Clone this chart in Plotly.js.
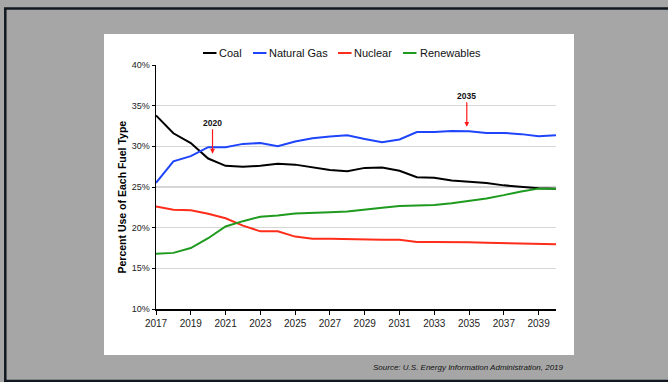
<!DOCTYPE html>
<html>
<head>
<meta charset="utf-8">
<script src="https://cdn.plot.ly/plotly-3.0.1.min.js"></script>
<style>
html,body{margin:0;padding:0;background:#a6a6a6;}
#chart{width:668px;height:382px;}
</style>
</head>
<body>
<div id="chart"></div>
<script>
const years = [2017,2018,2019,2020,2021,2022,2023,2024,2025,2026,2027,2028,2029,2030,2031,2032,2033,2034,2035,2036,2037,2038,2039,2040];
const coal = [33.8,31.6,30.4,28.5,27.6,27.5,27.6,27.85,27.75,27.4,27.1,26.95,27.35,27.4,27.0,26.2,26.15,25.8,25.65,25.5,25.2,25.05,24.85,24.8];
const naturalGas = [25.5,28.15,28.8,29.9,29.9,30.3,30.4,30.0,30.6,31.0,31.2,31.35,30.9,30.5,30.85,31.75,31.75,31.9,31.85,31.65,31.65,31.5,31.25,31.35];
const nuclear = [22.6,22.2,22.15,21.7,21.15,20.25,19.55,19.55,18.9,18.65,18.65,18.6,18.5,18.5,18.5,18.25,18.25,18.25,18.2,18.15,18.1,18.1,18.0,17.95];
const renewables = [16.8,16.9,17.5,18.7,20.15,20.8,21.35,21.5,21.75,21.8,21.9,22.0,22.25,22.45,22.65,22.75,22.8,23.0,23.3,23.6,24.0,24.45,24.8,24.8];

const seriesNames = ['Coal','Natural Gas','Nuclear','Renewables'];
const seriesColors = ['#000000','#1f45fc','#ff2d1a','#1e9a1e'];
const seriesData = [coal, naturalGas, nuclear, renewables];

const xTicks = [2017,2019,2021,2023,2025,2027,2029,2031,2033,2035,2037,2039];
const yTicks = [10,15,20,25,30,35,40];

const calloutLabels = ['2020','2035'];
const calloutX = [2020.25, 2034.87];
const calloutY = [29.1, 32.4];

const yTitle = 'Percent Use of Each Fuel Type';
const sourceText = 'Source: U.S. Energy Information Administration, 2019';

const traces = seriesNames.map((n,i)=>({
  x: years, y: seriesData[i], name: n, type:'scatter', mode:'lines',
  line:{color:seriesColors[i], width:2}, showlegend:false, hoverinfo:'skip'
}));

// px -> paper helpers (plot area 156..556 x, 65..309 y)
const PX = p => (p-156)/400;
const PY = p => (309-p)/244;

const shapes = [
  {type:'rect', xref:'paper', yref:'paper', x0:PX(104), x1:PX(574), y0:PY(355), y1:PY(34), fillcolor:'#ffffff', line:{width:0}, layer:'below'},
  {type:'line', xref:'paper', yref:'paper', x0:PX(5.3), x1:PX(5.3), y0:PY(8), y1:PY(381), line:{color:'#111820', width:2.5}},
  {type:'line', xref:'paper', yref:'paper', x0:PX(4), x1:PX(668), y0:PY(8.6), y1:PY(8.6), line:{color:'#111820', width:2.5}},
  {type:'line', xref:'paper', yref:'paper', x0:PX(4), x1:PX(668), y0:PY(381), y1:PY(381), line:{color:'#111820', width:2.5}}
];
// legend keys
const legKeyX = [203,253,338,403];
const legTextX = [217,267,352,418];
seriesNames.forEach((n,i)=>{
  shapes.push({type:'line', xref:'paper', yref:'paper', x0:PX(legKeyX[i]), x1:PX(legKeyX[i]+13.5), y0:PY(53), y1:PY(53), line:{color:seriesColors[i], width:2}});
});

const annotations = [];
seriesNames.forEach((n,i)=>{
  annotations.push({xref:'paper', yref:'paper', x:PX(legTextX[i]), y:PY(53), text:n, showarrow:false, xanchor:'left', yanchor:'middle', font:{family:'Liberation Sans, Arial', size:11, color:'#111'}});
});
calloutLabels.forEach((t,i)=>{
  annotations.push({x:calloutX[i], y:calloutY[i], xref:'x', yref:'y', text:'<b>'+t+'</b>', showarrow:true, ax:0, ay:-31, arrowcolor:'#ff1a1a', arrowhead:2, arrowsize:0.8, arrowwidth:1.2, standoff:0, startstandoff:0, font:{family:'Liberation Sans, Arial', size:8.5, color:'#111'}});
});
annotations.push({xref:'paper', yref:'paper', x:PX(121), y:PY(197.5), text:'<b>'+yTitle+'</b>', textangle:-90, showarrow:false, xanchor:'center', yanchor:'middle', font:{family:'Liberation Sans, Arial', size:10.5, color:'#000'}});
annotations.push({xref:'paper', yref:'paper', x:PX(566), y:PY(367), text:'<i>'+sourceText+'</i>', showarrow:false, xanchor:'right', yanchor:'middle', font:{family:'Liberation Sans, Arial', size:8, color:'#111'}});

const layout = {
  width:668, height:382,
  margin:{l:156, r:112, t:65, b:73, pad:0},
  paper_bgcolor:'#a6a6a6', plot_bgcolor:'#ffffff',
  xaxis:{range:[2017,2040], tickvals:xTicks, ticktext:xTicks.map(String), showgrid:false, zeroline:false,
    showline:true, linecolor:'#000', linewidth:1.5, ticks:'outside', ticklen:4, tickcolor:'#000', tickwidth:1,
    tickfont:{family:'Liberation Sans, Arial', size:10, color:'#222'}},
  yaxis:{range:[10,40], tickvals:yTicks, ticktext:yTicks.map(v=>v+'%'), showgrid:true, gridcolor:'#d6d6d6', gridwidth:1.2, zeroline:false,
    showline:true, linecolor:'#000', linewidth:1.5, ticks:'outside', ticklen:3, tickcolor:'#000', tickwidth:1,
    tickfont:{family:'Liberation Sans, Arial', size:9, color:'#222'}},
  shapes:shapes, annotations:annotations, showlegend:false
};
Plotly.newPlot('chart', traces, layout, {displayModeBar:false, staticPlot:true});
</script>
</body>
</html>
